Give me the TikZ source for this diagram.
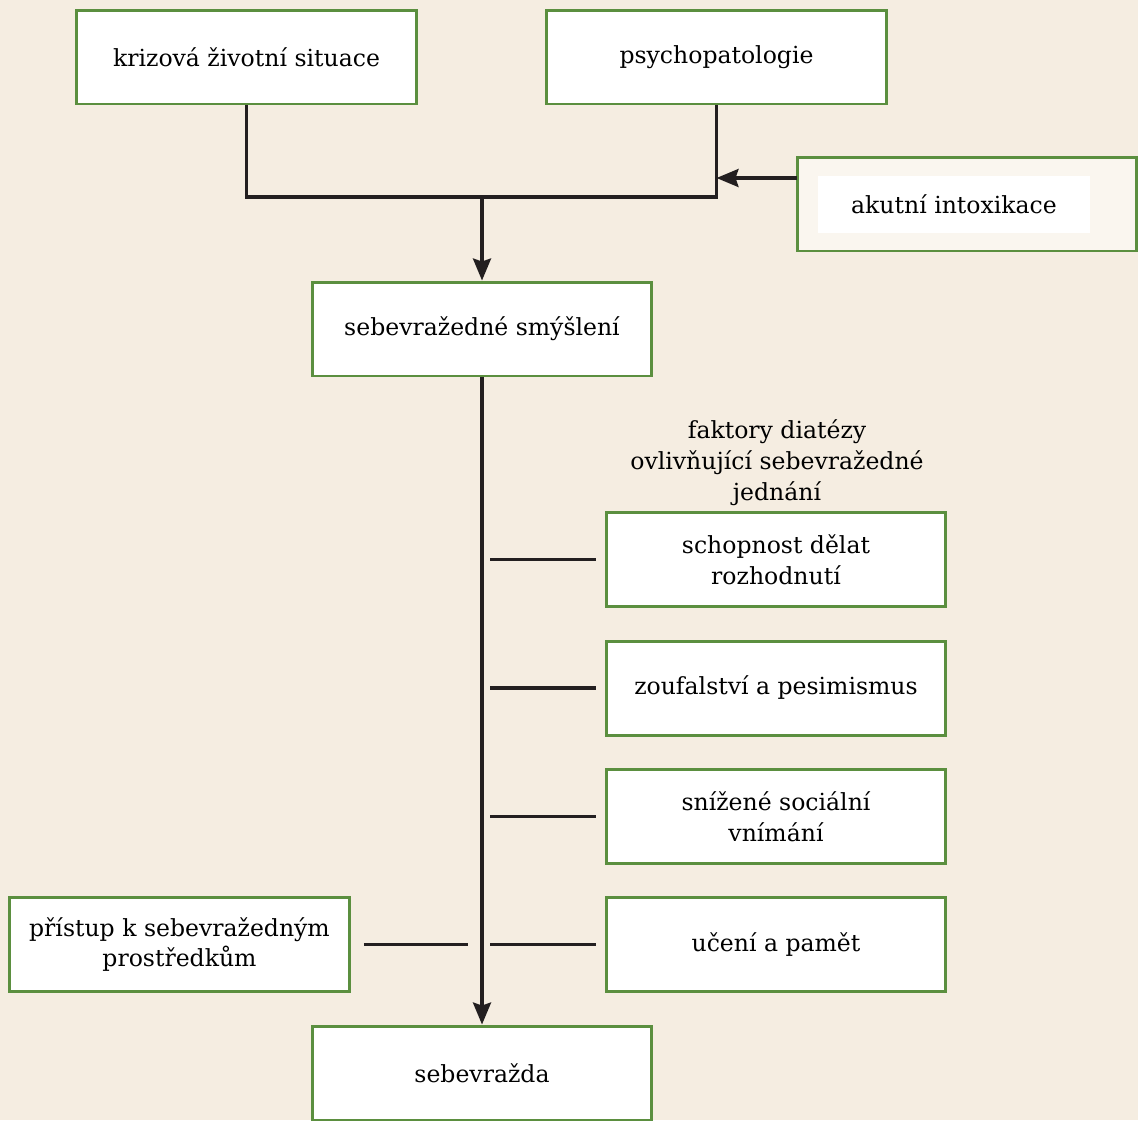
\documentclass[tikz,border=0pt]{standalone}
\usepackage{fontspec}
\setmainfont{DejaVu Serif}
\usepackage{xcolor}
\usetikzlibrary{arrows.meta}
\definecolor{bg}{HTML}{F5EDE1}
\definecolor{boxgreen}{HTML}{5B8F3F}
\definecolor{boxpale}{HTML}{FAF6EF}
\definecolor{linedark}{HTML}{231F20}

\begin{document}
\begin{tikzpicture}[x=0.02cm,y=-0.02cm,
  box/.style={draw=boxgreen,line width=1.7pt,fill=white,minimum width=6.8cm,
    minimum height=1.88cm,inner sep=0pt,align=center,font=\fontsize{13.4}{17.6}\selectfont},
  link/.style={draw=linedark,line width=1.9pt},
  arr/.style={link,-{Stealth[length=0.44cm,width=0.36cm,inset=0.06cm]}}]
\fill[bg] (0,0) rectangle (1138,1120);
\useasboundingbox (0,0) rectangle (1138,1120);
% boxes
\node[box](krize)at(246.5,57){krizová životní situace};
\node[box](psycho)at(716.5,57){psychopatologie};
\node[box,fill=boxpale](intox)at(967,204){};
\node[fill=white,minimum width=5.44cm,minimum height=1.14cm,inner sep=0pt,
  font=\fontsize{13.4}{17.6}\selectfont](intoxtxt)at(954,204.5){akutní intoxikace};
\node[box](myslenky)at(482,329){sebevražedné smýšlení};
\node[align=center,font=\fontsize{13.4}{17.6}\selectfont](diateza)at(777,463)
  {faktory diatézy\\ovlivňující sebevražedné\\jednání};
\node[box](rozhod)at(776,559.5){schopnost dělat\\rozhodnutí};
\node[box](zoufal)at(776,688){zoufalství a pesimismus};
\node[box](social)at(776,816.5){snížené sociální\\vnímání};
\node[box](uceni)at(776,944.5){učení a pamět};
\node[box](pristup)at(179.5,944.5){přístup k sebevražedným\\prostředkům};
\node[box](suicid)at(482,1073){sebevražda};
% connectors
\coordinate(join)at(482,197);
\coordinate(intoxin)at(797,178);
\draw[link](krize.south)|-(join)-|(psycho.south);
\draw[arr](join)--(myslenky.north);
\draw[arr](intoxin)--(psycho.south|-intoxin);
\draw[arr](myslenky.south)--(suicid.north);
\foreach \n in {rozhod,zoufal,social,uceni}
  \draw[link]([xshift=-0.18cm]\n.west)--++(-106,0);
\draw[link]([xshift=0.26cm]pristup.east)--++(104,0);
\end{tikzpicture}
\end{document}
